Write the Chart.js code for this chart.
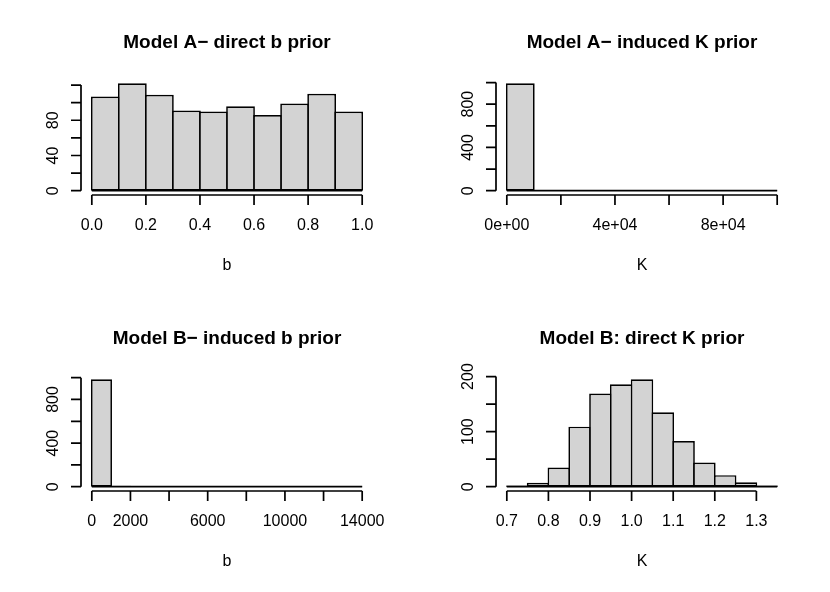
<!DOCTYPE html>
<html>
<head>
<meta charset="utf-8">
<script src="https://cdn.jsdelivr.net/npm/chart.js@4"></script>
<style>
    body { margin: 0; background: #fff; }
    #siatka { display: grid; grid-template-columns: 415px 415px; grid-template-rows: 296px 296px; width: 830px; height: 592px; }
    canvas { display: block; }
</style>
</head>
<body>
<div id="siatka">
    <canvas id="wykres1" width="415" height="296"></canvas>
    <canvas id="wykres2" width="415" height="296"></canvas>
    <canvas id="wykres3" width="415" height="296"></canvas>
    <canvas id="wykres4" width="415" height="296"></canvas>
</div>
<script>
// Model A - direct b prior
const przedzialyA_b = [0, 0.1, 0.2, 0.3, 0.4, 0.5, 0.6, 0.7, 0.8, 0.9, 1.0];
const licznikiA_b = [107, 122, 109, 91, 90, 96, 86, 99, 110, 90];
const tickiXA_b = [0, 0.2, 0.4, 0.6, 0.8, 1.0];
const etykietyXA_b = ['0.0', '0.2', '0.4', '0.6', '0.8', '1.0'];
const tickiYA_b = [0, 20, 40, 60, 80, 100, 120];
const etykietyYA_b = ['0', '', '40', '', '80', '', ''];

// Model A - induced K prior
const przedzialyA_K = [0, 10000, 20000, 30000, 40000, 50000, 60000, 70000, 80000, 90000, 100000];
const licznikiA_K = [993, 3, 2, 1, 0, 0, 0, 0, 0, 1];
const tickiXA_K = [0, 20000, 40000, 60000, 80000, 100000];
const etykietyXA_K = ['0e+00', '', '4e+04', '', '8e+04', ''];
const tickiYA_K = [0, 200, 400, 600, 800, 1000];
const etykietyYA_K = ['0', '', '400', '', '800', ''];

// Model B - induced b prior
const przedzialyB_b = [0, 1000, 2000, 3000, 4000, 5000, 6000, 7000, 8000, 9000, 10000, 11000, 12000, 13000, 14000];
const licznikiB_b = [985, 9, 3, 1, 1, 0, 0, 0, 0, 0, 0, 0, 0, 1];
const tickiXB_b = [0, 2000, 4000, 6000, 8000, 10000, 12000, 14000];
const etykietyXB_b = ['0', '2000', '', '6000', '', '10000', '', '14000'];
const tickiYB_b = [0, 200, 400, 600, 800, 1000];
const etykietyYB_b = ['0', '', '400', '', '800', ''];

// Model B: direct K prior
const przedzialyB_K = [0.70, 0.75, 0.80, 0.85, 0.90, 0.95, 1.00, 1.05, 1.10, 1.15, 1.20, 1.25, 1.30, 1.35];
const licznikiB_K = [2, 7, 35, 109, 169, 186, 195, 135, 83, 44, 21, 8, 2];
const tickiXB_K = [0.7, 0.8, 0.9, 1.0, 1.1, 1.2, 1.3];
const etykietyXB_K = ['0.7', '0.8', '0.9', '1.0', '1.1', '1.2', '1.3'];
const tickiYB_K = [0, 50, 100, 150, 200];
const etykietyYB_K = ['0', '', '100', '', '200'];

const CZCIONKA = '"Liberation Sans", Arial, Helvetica, sans-serif';
const GRUBOSC = 1.7;
const MARGINES = { left: 81, right: 42, top: 79, bottom: 101 };

// osie w stylu R (rysowane przez skale Chart.js)
const osieR = {
    id: 'osieR',
    afterDraw(chart, args, opcje) {
        const ctx = chart.ctx;
        const sx = chart.scales.x;
        const sy = chart.scales.y;
        const obszar = chart.chartArea;
        ctx.save();
        ctx.strokeStyle = '#000';
        ctx.fillStyle = '#000';
        ctx.lineWidth = GRUBOSC;
        ctx.lineCap = 'butt';

        // linia podstawy histogramu (puste przedzialy)
        const y0 = sy.getPixelForValue(0);
        ctx.beginPath();
        ctx.moveTo(sx.getPixelForValue(opcje.przedzialy[0]), y0);
        ctx.lineTo(sx.getPixelForValue(opcje.przedzialy[opcje.przedzialy.length - 1]), y0);
        ctx.stroke();

        // os X
        const dol = obszar.bottom;
        ctx.beginPath();
        ctx.moveTo(sx.getPixelForValue(opcje.tickiX[0]), dol);
        ctx.lineTo(sx.getPixelForValue(opcje.tickiX[opcje.tickiX.length - 1]), dol);
        opcje.tickiX.forEach(t => {
            const px = sx.getPixelForValue(t);
            ctx.moveTo(px, dol);
            ctx.lineTo(px, dol + 10);
        });
        ctx.stroke();
        ctx.font = `16px ${CZCIONKA}`;
        ctx.textAlign = 'center';
        ctx.textBaseline = 'alphabetic';
        opcje.tickiX.forEach((t, i) => {
            if (opcje.etykietyX[i]) ctx.fillText(opcje.etykietyX[i], sx.getPixelForValue(t), dol + 35);
        });

        // os Y
        const lewa = obszar.left;
        ctx.beginPath();
        ctx.moveTo(lewa, sy.getPixelForValue(opcje.tickiY[0]));
        ctx.lineTo(lewa, sy.getPixelForValue(opcje.tickiY[opcje.tickiY.length - 1]));
        opcje.tickiY.forEach(t => {
            const py = sy.getPixelForValue(t);
            ctx.moveTo(lewa, py);
            ctx.lineTo(lewa - 10, py);
        });
        ctx.stroke();
        opcje.tickiY.forEach((t, i) => {
            if (!opcje.etykietyY[i]) return;
            ctx.save();
            ctx.translate(lewa - 23, sy.getPixelForValue(t));
            ctx.rotate(-Math.PI / 2);
            ctx.fillText(opcje.etykietyY[i], 0, 0);
            ctx.restore();
        });

        // podpis osi X i tytul
        const srodek = (obszar.left + obszar.right) / 2;
        ctx.fillText(opcje.osX, srodek, dol + 75);
        ctx.font = `bold 19px ${CZCIONKA}`;
        ctx.fillText(opcje.tytul, srodek, obszar.top - 31);
        ctx.restore();
    }
};

function rysujHistogram(idCanvas, tytul, osX, przedzialy, liczniki, tickiX, etykietyX, tickiY, etykietyY) {
    const pierwszy = przedzialy[0];
    const ostatni = przedzialy[przedzialy.length - 1];
    const zakresX = ostatni - pierwszy;
    const xMin = pierwszy - 0.04 * zakresX;
    const xMax = ostatni + 0.04 * zakresX;
    const yMaks = Math.max(...liczniki);

    const punkty = liczniki.map((n, i) => ({ x: (przedzialy[i] + przedzialy[i + 1]) / 2, y: n }));

    // szerokosc slupka + grubosc ramki, zeby sasiednie ramki sie pokrywaly
    const szerokoscObszaru = 415 - MARGINES.left - MARGINES.right;
    const szerokoscPrzedzialu = (przedzialy[1] - przedzialy[0]) * szerokoscObszaru / (xMax - xMin);

    const ctx = document.getElementById(idCanvas).getContext('2d');
    return new Chart(ctx, {
        type: 'bar',
        data: {
            datasets: [{
                data: punkty,
                backgroundColor: '#d3d3d3',
                borderColor: '#000',
                borderWidth: GRUBOSC,
                borderSkipped: false,
                barPercentage: 1 + GRUBOSC / szerokoscPrzedzialu,
                categoryPercentage: 1,
                inflateAmount: 0
            }]
        },
        options: {
            responsive: false,
            animation: false,
            layout: { padding: MARGINES },
            scales: {
                x: { type: 'linear', display: false, offset: false, min: xMin, max: xMax },
                y: { type: 'linear', display: false, min: -0.04 * yMaks, max: 1.04 * yMaks }
            },
            plugins: {
                legend: { display: false },
                tooltip: { enabled: false },
                osieR: { tytul, osX, przedzialy, tickiX, etykietyX, tickiY, etykietyY }
            }
        },
        plugins: [osieR]
    });
}

rysujHistogram('wykres1', 'Model A\u2212 direct b prior', 'b', przedzialyA_b, licznikiA_b, tickiXA_b, etykietyXA_b, tickiYA_b, etykietyYA_b);
rysujHistogram('wykres2', 'Model A\u2212 induced K prior', 'K', przedzialyA_K, licznikiA_K, tickiXA_K, etykietyXA_K, tickiYA_K, etykietyYA_K);
rysujHistogram('wykres3', 'Model B\u2212 induced b prior', 'b', przedzialyB_b, licznikiB_b, tickiXB_b, etykietyXB_b, tickiYB_b, etykietyYB_b);
rysujHistogram('wykres4', 'Model B: direct K prior', 'K', przedzialyB_K, licznikiB_K, tickiXB_K, etykietyXB_K, tickiYB_K, etykietyYB_K);
</script>
</body>
</html>
